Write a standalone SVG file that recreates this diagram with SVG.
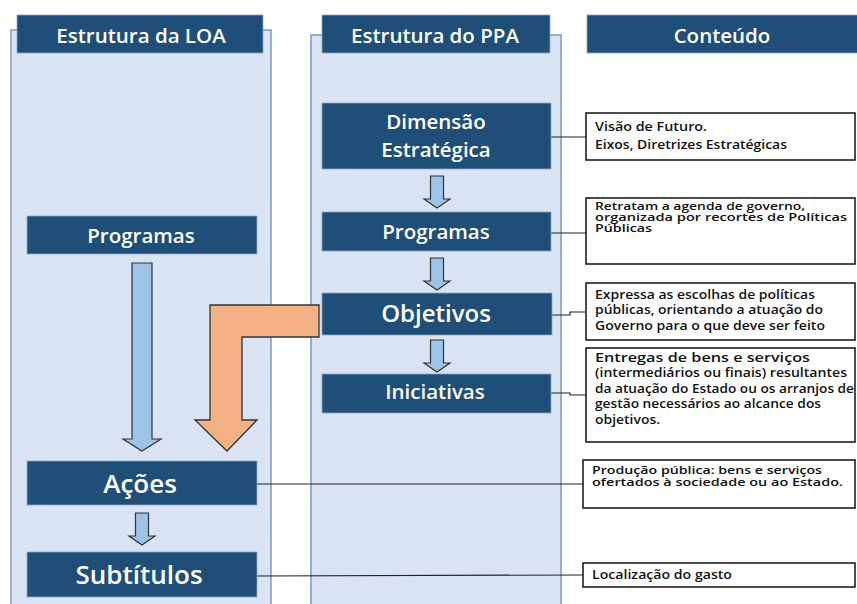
<svg xmlns="http://www.w3.org/2000/svg" width="857" height="604" viewBox="0 0 857 604">
<style>
.panel{fill:#DAE3F3;stroke:#7C99BF;stroke-width:1.5}
.hdr{fill:#1F4E79;stroke:#8EA9C8;stroke-width:0.8}
.ht{font-family:"Open Sans",sans-serif;font-weight:600;fill:#fff;text-anchor:middle;font-size:20.5px}
.big{font-size:24px}
.big2{font-size:26px}
.box{fill:#fff;stroke:#111;stroke-width:1.5}
.bt{font-family:"Open Sans",sans-serif;font-size:12.5px;font-weight:600;fill:#111}
.bs{font-size:10.5px}
.con{fill:none;stroke:#222;stroke-width:1.2}
.blue{fill:#9DC3E6;stroke:#333;stroke-width:1.2}
.orange{fill:#F4B183;stroke:#333;stroke-width:1.3}
</style>
<defs>
<path id="sa" d="M-6.5,0 H6.5 V23 H13 L0,32 L-13,23 H-6.5 Z"/>
</defs>
<rect width="857" height="604" fill="#fff"/>
<g id="panel-loa">
<rect class="panel" x="11" y="30" width="260" height="590"/>
<rect class="hdr" x="17" y="15" width="246" height="38"/>
<text class="ht" x="141" y="43">Estrutura da LOA</text>
</g>
<g id="panel-ppa">
<rect class="panel" x="311" y="35" width="250" height="585"/>
<rect class="hdr" x="322" y="15" width="228" height="38"/>
<text class="ht" x="435" y="43">Estrutura do PPA</text>
</g>
<g id="header-conteudo">
<rect class="hdr" x="587" y="15" width="275" height="38"/>
<text class="ht" x="722" y="43">Conteúdo</text>
</g>
<g id="connectors">
<polyline class="con" points="551,137 586,137"/>
<polyline class="con" points="551,233 586,233"/>
<polyline class="con" points="552,315 570,315 570,312 586,312"/>
<polyline class="con" points="551,393 570,393 570,395 586,395"/>
<polyline class="con" points="257,484 583,484"/>
<polyline class="con" points="257,576 583,575"/>
<use href="#sa" class="blue" x="437" y="176"/>
<use href="#sa" class="blue" x="437" y="258"/>
<use href="#sa" class="blue" x="437" y="340"/>
<use href="#sa" class="blue" x="142" y="513"/>
<path class="blue" d="M132,263 H152 V439 H161 L142,451 L123,439 H132 Z"/>
<path class="orange" d="M319,305 H210 V420 H195 L227,451 L257,420 H242 V337 H319 Z"/>
</g>
<g id="node-dimensao">
<rect class="hdr" x="322" y="103" width="229" height="66"/>
<text class="ht" x="436" y="129">Dimensão</text>
<text class="ht" x="436" y="157">Estratégica</text>
</g>
<g id="node-programas-ppa">
<rect class="hdr" x="322" y="212" width="229" height="39"/>
<text class="ht" x="436" y="239">Programas</text>
</g>
<g id="node-objetivos">
<rect class="hdr" x="322" y="293" width="230" height="42"/>
<text class="ht big" x="436" y="322">Objetivos</text>
</g>
<g id="node-iniciativas">
<rect class="hdr" x="322" y="374" width="229" height="39"/>
<text class="ht" x="435" y="399">Iniciativas</text>
</g>
<g id="node-programas-loa">
<rect class="hdr" x="27" y="216" width="230" height="38"/>
<text class="ht" x="141" y="243">Programas</text>
</g>
<g id="node-acoes">
<rect class="hdr" x="27" y="461" width="230" height="44"/>
<text class="ht big2" x="140" y="493">Ações</text>
</g>
<g id="node-subtitulos">
<rect class="hdr" x="27" y="552" width="230" height="45"/>
<text class="ht big2" x="139" y="584">Subtítulos</text>
</g>
<g id="box-visao">
<rect class="box" x="586" y="113" width="269" height="47"/>
<text class="bt" x="595" y="131" textLength="112" lengthAdjust="spacingAndGlyphs">Visão de Futuro.</text>
<text class="bt" x="595" y="149" textLength="192" lengthAdjust="spacingAndGlyphs">Eixos, Diretrizes Estratégicas</text>
</g>
<g id="box-retratam">
<rect class="box" x="586" y="198" width="269" height="66"/>
<text class="bt bs" x="595" y="210" textLength="210" lengthAdjust="spacingAndGlyphs">Retratam a agenda de governo,</text>
<text class="bt bs" x="595" y="221" textLength="252" lengthAdjust="spacingAndGlyphs">organizada por recortes de Políticas</text>
<text class="bt bs" x="595" y="232" textLength="57" lengthAdjust="spacingAndGlyphs">Públicas</text>
</g>
<g id="box-expressa">
<rect class="box" x="586" y="283" width="269" height="57"/>
<text class="bt" x="595" y="299" textLength="220" lengthAdjust="spacingAndGlyphs">Expressa as escolhas de políticas</text>
<text class="bt" x="595" y="314" textLength="228" lengthAdjust="spacingAndGlyphs">públicas, orientando a atuação do</text>
<text class="bt" x="595" y="330" textLength="230" lengthAdjust="spacingAndGlyphs">Governo para o que deve ser feito</text>
</g>
<g id="box-entregas">
<rect class="box" x="586" y="348" width="269" height="94"/>
<text class="bt" x="595" y="362" textLength="215" lengthAdjust="spacingAndGlyphs">Entregas de bens e serviços</text>
<text class="bt" x="595" y="377" textLength="252" lengthAdjust="spacingAndGlyphs">(intermediários ou finais) resultantes</text>
<text class="bt" x="595" y="393" textLength="259" lengthAdjust="spacingAndGlyphs">da atuação do Estado ou os arranjos de</text>
<text class="bt" x="595" y="408" textLength="226" lengthAdjust="spacingAndGlyphs">gestão necessários ao alcance dos</text>
<text class="bt" x="595" y="424" textLength="65" lengthAdjust="spacingAndGlyphs">objetivos.</text>
</g>
<g id="box-producao">
<rect class="box" x="583" y="460" width="272" height="48"/>
<text class="bt bs" x="592" y="474" textLength="230" lengthAdjust="spacingAndGlyphs">Produção pública: bens e serviços</text>
<text class="bt bs" x="592" y="486" textLength="251" lengthAdjust="spacingAndGlyphs">ofertados à sociedade ou ao Estado.</text>
</g>
<g id="box-localizacao">
<rect class="box" x="583" y="563" width="272" height="24"/>
<text class="bt" x="592" y="579" textLength="140" lengthAdjust="spacingAndGlyphs">Localização do gasto</text>
</g>
</svg>
